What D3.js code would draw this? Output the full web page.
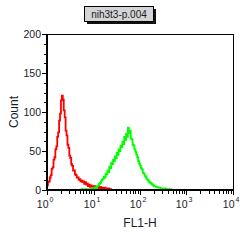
<!DOCTYPE html>
<html>
<head>
<meta charset="utf-8">
<script src="https://cdn.jsdelivr.net/npm/d3@7"></script>
<style>
  body { margin:0; background:#fff; }
  text { font-family:"Liberation Sans", Arial, sans-serif; fill:#1a1a2a; }
</style>
</head>
<body>
<div id="canvas"></div>
<script>
// histogram data, one count per channel, channels spaced 0.02 log10 units
var redStart = 0.0,
    redCounts = [6,10,11,16,19,27,29,39,42,52,56,68,74,89,98,115,121,116,102,93,
                 76,70,58,54,44,41,33,31,25,25,20,19,16,16,13,14,11,12,10,11,
                 8,10,7,8,5,7,4,6,4,5,3,5,3,4,3,4,2,4,2,3,3,2,3,1,2,1,2,0,1,0,0];
var greenStart = 0.7,
    greenCounts = [0,0,1,0,0,1,0,1,0,1,
                   1,0,1,2,1,2,3,2,4,5,
                   6,8,9,11,13,14,17,16,21,20,
                   25,23,30,28,35,33,39,37,43,41,
                   48,45,52,50,57,55,62,59,68,64,
                   72,68,80,73,76,66,65,58,57,52,
                   49,45,42,37,34,31,28,26,22,21,
                   18,17,14,13,11,10,9,8,7,6,
                   5,5,4,4,3,3,3,2,2,2,
                   2,1,2,1,1,1,1,0,1,0,0];
var step = 0.02;
var yTicks = [0,50,100,150,200];
var xDecades = [0,1,2,3,4];
var title = 'nih3t3-p.004',
    xLabel = 'FL1-H',
    yLabel = 'Count';

var m = {t:34, r:7, b:50, l:47},
    w = 240 - m.l - m.r,
    h = 240 - m.t - m.b;

var svg = d3.select('#canvas')
    .append('svg')
    .attr('width', 240)
    .attr('height', 240);

var plot = svg.append('g')
    .attr('transform', 'translate(' + m.l + ',' + m.t + ')');

// Scale
var scaleX = d3.scaleLog().domain([1, 10000]).range([0, w]);
var scaleY = d3.scaleLinear().domain([0, 200]).range([h, 0]);

// title box
var tb = {x:84, y:6, w:69, h:15};
svg.append('rect').attr('x', tb.x + 3).attr('y', tb.y + 3)
    .attr('width', tb.w).attr('height', tb.h).attr('fill', '#111');
svg.append('rect').attr('x', tb.x + 0.5).attr('y', tb.y + 0.5)
    .attr('width', tb.w).attr('height', tb.h)
    .attr('fill', '#d4d4d4').attr('stroke', '#000');
svg.append('text').attr('x', tb.x + tb.w / 2 + 0.5).attr('y', tb.y + 11.5)
    .attr('text-anchor', 'middle').style('font-size', '10px').text(title);

// histograms
function toPoints(start, counts){
  var pts = counts.map(function(c, i){
    return [Math.pow(10, start + i * step), c];
  });
  return pts;
}
var line = d3.line()
    .x(function(d){ return scaleX(d[0]); })
    .y(function(d){ return scaleY(d[1]); })
    .curve(d3.curveStepAfter);

plot.append('path')
    .datum(toPoints(redStart, redCounts))
    .attr('d', line)
    .attr('fill', 'none')
    .attr('stroke', '#ff0000')
    .attr('stroke-width', 1.8);

plot.append('path')
    .datum(toPoints(greenStart, greenCounts))
    .attr('d', line)
    .attr('fill', 'none')
    .attr('stroke', '#00ff00')
    .attr('stroke-width', 1.8);

// frame: top and right thin lines
plot.append('line').attr('x1', 0).attr('x2', w + 0.5).attr('y1', 0.5).attr('y2', 0.5)
    .attr('stroke', '#000');
plot.append('line').attr('x1', w + 0.5).attr('x2', w + 0.5).attr('y1', 0).attr('y2', h)
    .attr('stroke', '#000');

// y axis
var axisY = plot.append('g').attr('class', 'axis axis-y');
axisY.append('line').attr('x1', 0).attr('x2', 0).attr('y1', 0).attr('y2', h + 1)
    .attr('stroke', '#000').attr('stroke-width', 2);
d3.range(0, 201, 12.5).forEach(function(v){
  var major = yTicks.indexOf(v) >= 0;
  axisY.append('line')
      .attr('x1', -1).attr('x2', major ? -5 : -3)
      .attr('y1', Math.round(scaleY(v)) + 0.5).attr('y2', Math.round(scaleY(v)) + 0.5)
      .attr('stroke', '#000');
});
axisY.selectAll('text.tick')
    .data(yTicks)
    .enter()
    .append('text')
    .attr('class', 'tick')
    .attr('x', -6)
    .attr('y', function(d){ return scaleY(d) + 4; })
    .attr('text-anchor', 'end')
    .style('font-size', '10.5px')
    .text(function(d){ return d; });

// x axis
var axisX = plot.append('g').attr('class', 'axis axis-x')
    .attr('transform', 'translate(0,' + h + ')');
axisX.append('line').attr('x1', -1).attr('x2', w + 1).attr('y1', 0).attr('y2', 0)
    .attr('stroke', '#000').attr('stroke-width', 2);
xDecades.forEach(function(e){
  var x = Math.round(scaleX(Math.pow(10, e))) + 0.5;
  axisX.append('line').attr('x1', x).attr('x2', x).attr('y1', 1).attr('y2', 5)
      .attr('stroke', '#000');
  if (e < 4) {
    d3.range(2, 10).forEach(function(k){
      var xm = Math.round(scaleX(k * Math.pow(10, e))) + 0.5;
      axisX.append('line').attr('x1', xm).attr('x2', xm).attr('y1', 1).attr('y2', 4)
          .attr('stroke', '#000');
    });
  }
  axisX.append('text').attr('x', x + 1).attr('y', 18)
      .attr('text-anchor', 'end').style('font-size', '10.5px').text('10');
  axisX.append('text').attr('x', x + 2).attr('y', 12)
      .attr('text-anchor', 'start').style('font-size', '7px').text(e);
});

// axis labels
svg.append('text')
    .attr('transform', 'translate(18,' + (m.t + h / 2) + ') rotate(-90)')
    .attr('text-anchor', 'middle')
    .style('font-size', '12px')
    .text(yLabel);
svg.append('text')
    .attr('x', m.l + w / 2)
    .attr('y', 227)
    .attr('text-anchor', 'middle')
    .style('font-size', '12px')
    .text(xLabel);
</script>
</body>
</html>
